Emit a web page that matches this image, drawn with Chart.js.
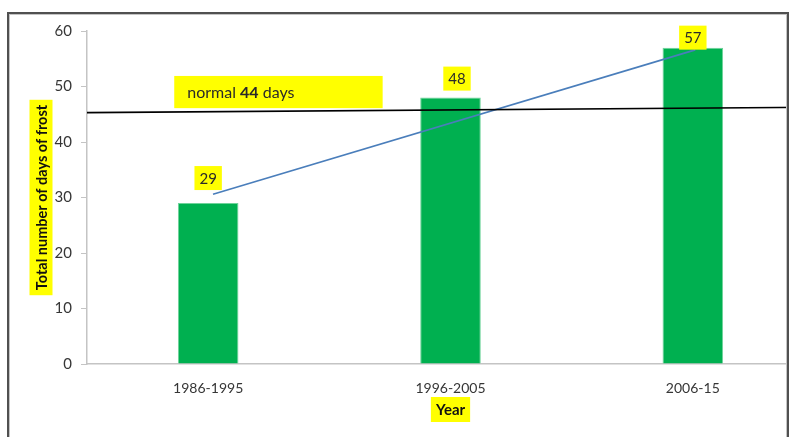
<!DOCTYPE html>
<html>
<head>
<meta charset="utf-8">
<script src="https://cdn.jsdelivr.net/npm/chart.js@4/dist/chart.umd.min.js"></script>
<style>
  html, body { margin: 0; padding: 0; background: #fff; }
  body { width: 790px; height: 437px; overflow: hidden; position: relative; }
  #clip { position: absolute; left: 0; top: 0; width: 788px; height: 437px; overflow: hidden; }
  #clip canvas { position: absolute; left: 0; top: 0; }
  #frame {
    position: absolute; left: 7px; top: 12px; width: 778px; height: 480px;
    border: 2px solid #505050;
    box-shadow: inset 1px 1px 0 #c4c4c4, inset -1px 0 0 #c4c4c4;
    pointer-events: none;
  }
</style>
</head>
<body>
<div id="clip"><canvas id="c" width="840" height="437"></canvas></div>
<div id="frame"></div>
<script>
// Frost days per decade
const periods = ['1986-1995', '1996-2005', '2006-15'];
const frostDays = [29, 48, 57];
const yTicks = [0, 10, 20, 30, 40, 50, 60];

// "normal" reference line (slightly tilted as drawn)
const normalDays = 44;
const normalLineX = [-0.5, 2.5];
const normalLineY = [45.3, 46.25];

// trend line across the decades
const trendX = [0.02, 2.01];
const trendY = [30.6, 56.6];

// label placement (pixel shifts from bar top) and styling
const tagShift = [[0, -25], [6.5, -19], [0, -10]];
const FONT = 'Lato';
const TEXT = '#363636';
const YELLOW = '#ffff00';

const toPoints = (xs, ys) => xs.map((v, i) => ({ x: v, y: ys[i] }));

const decor = {
  id: 'decor',
  afterDatasetsDraw(chart) {
    const { ctx, chartArea: a, scales: { x, y } } = chart;
    ctx.save();
    ctx.textBaseline = 'middle';

    // value tags above the bars
    ctx.font = `15px ${FONT}`;
    ctx.textAlign = 'center';
    chart.getDatasetMeta(2).data.forEach((bar, i) => {
      const [dx, dy] = tagShift[i];
      const cx = bar.x + dx, cy = bar.y + dy;
      const t = String(frostDays[i]);
      const w = ctx.measureText(t).width + 10, h = 24;
      ctx.fillStyle = YELLOW;
      ctx.fillRect(cx - w / 2, cy - h / 2, w, h);
      ctx.fillStyle = '#2a2a2a';
      ctx.fillText(t, cx, cy + 1);
    });

    // "normal 44 days" annotation
    const bx0 = x.getPixelForValue(-0.14), bx1 = x.getPixelForValue(0.72);
    const by0 = y.getPixelForValue(51.9), by1 = y.getPixelForValue(46.1);
    ctx.fillStyle = YELLOW;
    ctx.fillRect(bx0, by0, bx1 - bx0, by1 - by0);
    ctx.textAlign = 'left';
    const my = (by0 + by1) / 2 + 1;
    let tx = bx0 + 13;
    const parts = [['normal ', 'normal'], [String(normalDays), 'bold'], [' days', 'normal']];
    ctx.fillStyle = '#2a2a2a';
    parts.forEach(([s, wgt]) => {
      ctx.font = `${wgt} 16px ${FONT}`;
      ctx.fillText(s, tx, my);
      tx += ctx.measureText(s).width;
    });

    // y axis title
    const yTitle = 'Total number of days of frost';
    ctx.font = `bold 14.5px ${FONT}`;
    const yw = ctx.measureText(yTitle).width + 10;
    const ycx = a.left - 46, ycy = (a.top + a.bottom) / 2;
    ctx.save();
    ctx.translate(ycx, ycy);
    ctx.rotate(-Math.PI / 2);
    ctx.fillStyle = YELLOW;
    ctx.fillRect(-yw / 2, -11.5, yw, 23);
    ctx.fillStyle = '#111';
    ctx.textAlign = 'center';
    ctx.fillText(yTitle, 0, 1);
    ctx.restore();

    // x axis title
    const xTitle = 'Year';
    ctx.font = `bold 15px ${FONT}`;
    const xw = ctx.measureText(xTitle).width + 10;
    const xcx = (a.left + a.right) / 2, xcy = a.bottom + 45.5;
    ctx.fillStyle = YELLOW;
    ctx.fillRect(xcx - xw / 2, xcy - 12.5, xw, 25);
    ctx.fillStyle = '#111';
    ctx.textAlign = 'center';
    ctx.fillText(xTitle, xcx, xcy + 1);

    ctx.restore();
  }
};

function build() {
  new Chart(document.getElementById('c'), {
    type: 'bar',
    data: {
      datasets: [
        {
          type: 'line',
          data: toPoints(normalLineX, normalLineY),
          borderColor: '#000',
          borderWidth: 1.6,
          pointRadius: 0,
          fill: false,
          order: 0
        },
        {
          type: 'line',
          data: toPoints(trendX, trendY),
          borderColor: '#4a7ebb',
          borderWidth: 1.6,
          pointRadius: 0,
          fill: false,
          order: 0
        },
        {
          type: 'bar',
          data: toPoints(periods.map((_, i) => i), frostDays),
          backgroundColor: '#00b050',
          borderColor: '#6fd39a',
          borderWidth: 1,
          categoryPercentage: 1,
          barPercentage: 0.25,
          order: 1
        }
      ]
    },
    options: {
      responsive: false,
      animation: false,
      devicePixelRatio: 1,
      layout: { padding: { top: 31, right: 26, bottom: 0, left: 0 } },
      plugins: { legend: { display: false }, tooltip: { enabled: false } },
      scales: {
        x: {
          type: 'linear',
          offset: false,
          min: -0.5,
          max: 2.5,
          afterBuildTicks(s) { s.ticks = periods.map((_, i) => ({ value: i })); },
          afterFit(s) { s.height = 73; },
          ticks: {
            callback: (v) => periods[v],
            font: { family: FONT, size: 14 },
            color: TEXT,
            padding: 8,
            maxRotation: 0,
            autoSkip: false
          },
          grid: { display: false },
          border: { display: true, color: '#c4c4c4', width: 1.5 }
        },
        y: {
          min: 0,
          max: 60,
          afterBuildTicks(s) { s.ticks = yTicks.map(v => ({ value: v })); },
          afterFit(s) { s.width = 87; },
          ticks: {
            font: { family: FONT, size: 15 },
            color: TEXT,
            padding: 9
          },
          grid: { drawOnChartArea: false, drawTicks: true, tickLength: 6, color: '#c4c4c4' },
          border: { display: true, color: '#c4c4c4', width: 1.5 }
        }
      }
    },
    plugins: [decor]
  });
}

Promise.all([
  document.fonts.load(`14px ${FONT}`),
  document.fonts.load(`bold 14px ${FONT}`)
]).then(build, build);
</script>
</body>
</html>
